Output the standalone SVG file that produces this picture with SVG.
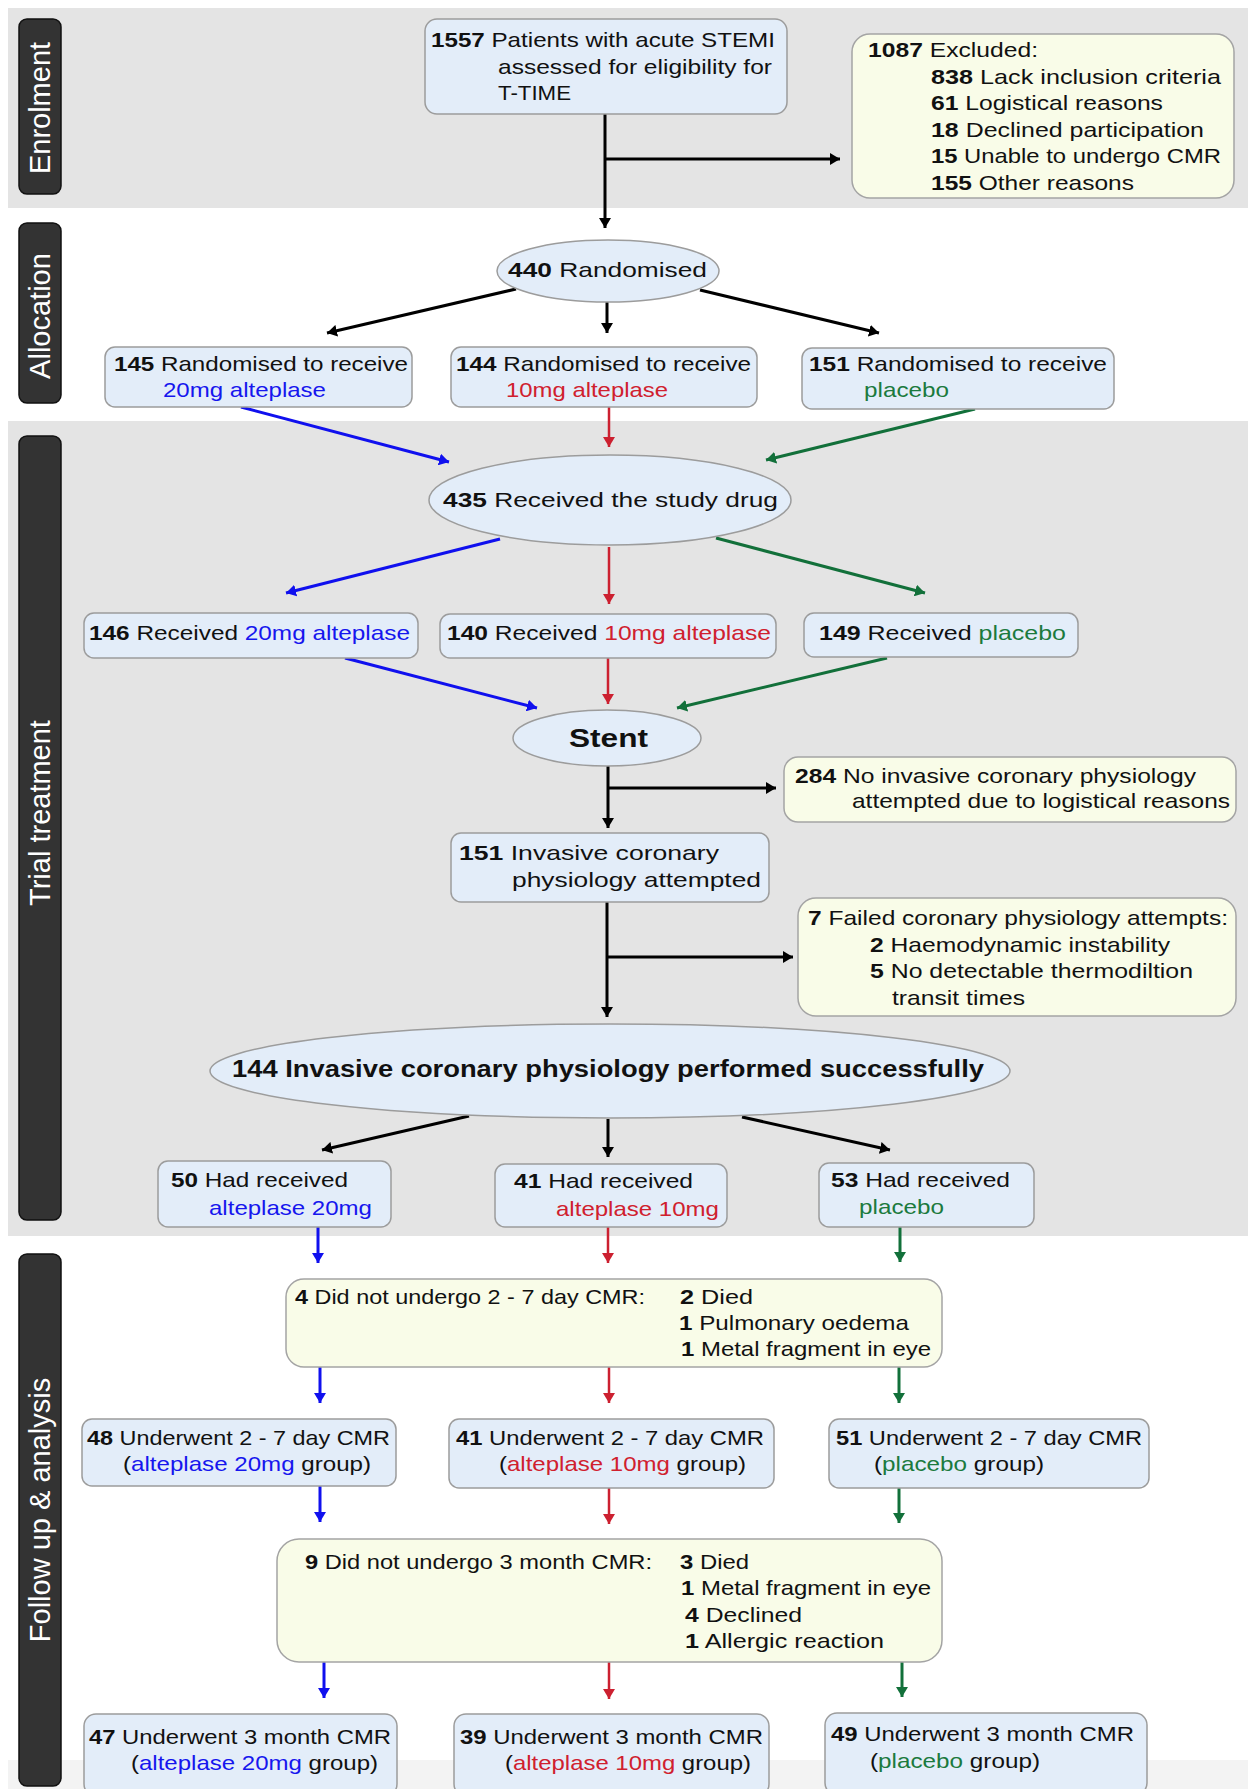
<svg xmlns="http://www.w3.org/2000/svg" width="1256" height="1789" viewBox="0 0 1256 1789">
<style>
text{font-family:"Liberation Sans",Arial,sans-serif;font-size:21px;fill:#111}
.b{font-weight:bold}
.bl{fill:#1616ee}
.rd{fill:#d0202e}
.gr{fill:#1b7a3e}
.bx{fill:#e3edf9;stroke:#9c9c9c;stroke-width:1.5}
.yb{fill:#f9fce8;stroke:#a4a4a4;stroke-width:1.5}
.band{fill:#e4e4e4}
.lab{fill:#333;stroke:#111;stroke-width:1.5}
.lt{font-size:29px;fill:#fff;text-anchor:middle}
.k{stroke:#000;stroke-width:3;fill:none}
.cb{stroke:#1010ee;stroke-width:3;fill:none}
.cr{stroke:#cc2030;stroke-width:2.5;fill:none}
.cg{stroke:#12703a;stroke-width:3;fill:none}
</style>
<defs>
<marker id="ak" viewBox="0 0 10 12" refX="10" refY="6" markerWidth="10" markerHeight="12" markerUnits="userSpaceOnUse" orient="auto"><path d="M0,0 L10,6 L0,12 z" fill="#000"/></marker>
<marker id="ab" viewBox="0 0 10 12" refX="10" refY="6" markerWidth="10" markerHeight="12" markerUnits="userSpaceOnUse" orient="auto"><path d="M0,0 L10,6 L0,12 z" fill="#1010ee"/></marker>
<marker id="ar" viewBox="0 0 10 12" refX="10" refY="6" markerWidth="10" markerHeight="12" markerUnits="userSpaceOnUse" orient="auto"><path d="M0,0 L10,6 L0,12 z" fill="#cc2030"/></marker>
<marker id="ag" viewBox="0 0 10 12" refX="10" refY="6" markerWidth="10" markerHeight="12" markerUnits="userSpaceOnUse" orient="auto"><path d="M0,0 L10,6 L0,12 z" fill="#12703a"/></marker>
</defs>
<rect width="1256" height="1789" fill="#fff"/>
<g id="bands">
<rect class="band" x="8" y="8" width="1240" height="200"/>
<rect class="band" x="8" y="421" width="1240" height="815"/>
<rect x="8" y="1760" width="1240" height="29" fill="#f3f3f3"/>
</g>
<g id="stage-labels">
<g id="lab-enrol"><rect class="lab" x="19" y="19" width="42" height="175" rx="8"/><text class="lt" transform="translate(50,108) rotate(-90)">Enrolment</text></g>
<g id="lab-alloc"><rect class="lab" x="19" y="223" width="42" height="180" rx="8"/><text class="lt" transform="translate(50,316) rotate(-90)">Allocation</text></g>
<g id="lab-trial"><rect class="lab" x="19" y="436" width="42" height="784" rx="8"/><text class="lt" transform="translate(50,813) rotate(-90)">Trial treatment</text></g>
<g id="lab-follow"><rect class="lab" x="19" y="1254" width="42" height="532" rx="8"/><text class="lt" transform="translate(50,1510) rotate(-90)">Follow up &amp; analysis</text></g>
</g>
<g id="connectors">
<line class="k" x1="605" y1="114" x2="605" y2="228" marker-end="url(#ak)"/>
<line class="k" x1="605" y1="159" x2="840" y2="159" marker-end="url(#ak)"/>
<line class="k" x1="516" y1="289" x2="327" y2="333" marker-end="url(#ak)"/>
<line class="k" x1="607" y1="302" x2="607" y2="333" marker-end="url(#ak)"/>
<line class="k" x1="700" y1="290" x2="879" y2="333" marker-end="url(#ak)"/>
<line class="cb" x1="241" y1="407" x2="449" y2="462" marker-end="url(#ab)"/>
<line class="cr" x1="609" y1="407" x2="609" y2="447" marker-end="url(#ar)"/>
<line class="cg" x1="975" y1="409" x2="766" y2="460" marker-end="url(#ag)"/>
<line class="cb" x1="500" y1="539" x2="286" y2="593" marker-end="url(#ab)"/>
<line class="cr" x1="609" y1="547" x2="609" y2="604" marker-end="url(#ar)"/>
<line class="cg" x1="716" y1="538" x2="925" y2="593" marker-end="url(#ag)"/>
<line class="cb" x1="345" y1="658" x2="537" y2="708" marker-end="url(#ab)"/>
<line class="cr" x1="608" y1="658" x2="608" y2="704" marker-end="url(#ar)"/>
<line class="cg" x1="887" y1="658" x2="677" y2="708" marker-end="url(#ag)"/>
<line class="k" x1="608" y1="766" x2="608" y2="828" marker-end="url(#ak)"/>
<line class="k" x1="608" y1="788" x2="776" y2="788" marker-end="url(#ak)"/>
<line class="k" x1="607" y1="902" x2="607" y2="1017" marker-end="url(#ak)"/>
<line class="k" x1="607" y1="957" x2="793" y2="957" marker-end="url(#ak)"/>
<line class="k" x1="469" y1="1116" x2="322" y2="1150" marker-end="url(#ak)"/>
<line class="k" x1="608" y1="1119" x2="608" y2="1157" marker-end="url(#ak)"/>
<line class="k" x1="742" y1="1117" x2="890" y2="1150" marker-end="url(#ak)"/>
<line class="cb" x1="318" y1="1227" x2="318" y2="1263" marker-end="url(#ab)"/>
<line class="cr" x1="608" y1="1227" x2="608" y2="1263" marker-end="url(#ar)"/>
<line class="cg" x1="900" y1="1227" x2="900" y2="1262" marker-end="url(#ag)"/>
<line class="cb" x1="320" y1="1367" x2="320" y2="1403" marker-end="url(#ab)"/>
<line class="cr" x1="609" y1="1367" x2="609" y2="1403" marker-end="url(#ar)"/>
<line class="cg" x1="899" y1="1367" x2="899" y2="1403" marker-end="url(#ag)"/>
<line class="cb" x1="320" y1="1486" x2="320" y2="1522" marker-end="url(#ab)"/>
<line class="cr" x1="609" y1="1488" x2="609" y2="1524" marker-end="url(#ar)"/>
<line class="cg" x1="899" y1="1488" x2="899" y2="1523" marker-end="url(#ag)"/>
<line class="cb" x1="324" y1="1662" x2="324" y2="1698" marker-end="url(#ab)"/>
<line class="cr" x1="609" y1="1662" x2="609" y2="1699" marker-end="url(#ar)"/>
<line class="cg" x1="902" y1="1662" x2="902" y2="1697" marker-end="url(#ag)"/>
</g>
<g id="n1557"><rect class="bx" x="425" y="19" width="362" height="95" rx="12"/>
<text x="431" y="47" textLength="344" lengthAdjust="spacingAndGlyphs"><tspan class="b">1557</tspan> Patients with acute STEMI</text>
<text x="498" y="74" textLength="274" lengthAdjust="spacingAndGlyphs">assessed for eligibility for</text>
<text x="498" y="100" textLength="73" lengthAdjust="spacingAndGlyphs">T-TIME</text></g>
<g id="excluded"><rect class="yb" x="852" y="34" width="382" height="164" rx="18"/>
<text x="868" y="57" textLength="170" lengthAdjust="spacingAndGlyphs"><tspan class="b">1087</tspan> Excluded:</text>
<text x="931" y="84" textLength="290" lengthAdjust="spacingAndGlyphs"><tspan class="b">838</tspan> Lack inclusion criteria</text>
<text x="931" y="110" textLength="232" lengthAdjust="spacingAndGlyphs"><tspan class="b">61</tspan> Logistical reasons</text>
<text x="931" y="137" textLength="273" lengthAdjust="spacingAndGlyphs"><tspan class="b">18</tspan> Declined participation</text>
<text x="931" y="163" textLength="290" lengthAdjust="spacingAndGlyphs"><tspan class="b">15</tspan> Unable to undergo CMR</text>
<text x="931" y="190" textLength="203" lengthAdjust="spacingAndGlyphs"><tspan class="b">155</tspan> Other reasons</text></g>
<g id="randomised"><ellipse class="bx" cx="608" cy="271" rx="111" ry="31"/>
<text x="508" y="277" textLength="199" lengthAdjust="spacingAndGlyphs"><tspan class="b">440</tspan> Randomised</text></g>
<g id="rand20"><rect class="bx" x="105" y="347" width="307" height="60" rx="10"/>
<text x="114" y="371" textLength="294" lengthAdjust="spacingAndGlyphs"><tspan class="b">145</tspan> Randomised to receive</text>
<text class="bl" x="163" y="397" textLength="163" lengthAdjust="spacingAndGlyphs">20mg alteplase</text></g>
<g id="rand10"><rect class="bx" x="451" y="347" width="306" height="60" rx="10"/>
<text x="456" y="371" textLength="295" lengthAdjust="spacingAndGlyphs"><tspan class="b">144</tspan> Randomised to receive</text>
<text class="rd" x="506" y="397" textLength="162" lengthAdjust="spacingAndGlyphs">10mg alteplase</text></g>
<g id="randpl"><rect class="bx" x="802" y="348" width="312" height="61" rx="10"/>
<text x="809" y="371" textLength="298" lengthAdjust="spacingAndGlyphs"><tspan class="b">151</tspan> Randomised to receive</text>
<text class="gr" x="864" y="397" textLength="85" lengthAdjust="spacingAndGlyphs">placebo</text></g>
<g id="drug"><ellipse class="bx" cx="610" cy="500" rx="181" ry="45"/>
<text x="443" y="507" textLength="335" lengthAdjust="spacingAndGlyphs"><tspan class="b">435</tspan> Received the study drug</text></g>
<g id="rec20"><rect class="bx" x="84" y="613" width="334" height="45" rx="10"/>
<text x="89" y="640" textLength="321" lengthAdjust="spacingAndGlyphs"><tspan class="b">146</tspan>  Received <tspan class="bl">20mg alteplase</tspan></text></g>
<g id="rec10"><rect class="bx" x="440" y="614" width="336" height="44" rx="10"/>
<text x="447" y="640" textLength="324" lengthAdjust="spacingAndGlyphs"><tspan class="b">140</tspan>  Received <tspan class="rd">10mg alteplase</tspan></text></g>
<g id="recpl"><rect class="bx" x="804" y="613" width="274" height="44" rx="10"/>
<text x="819" y="640" textLength="247" lengthAdjust="spacingAndGlyphs"><tspan class="b">149</tspan>  Received <tspan class="gr">placebo</tspan></text></g>
<g id="stent"><ellipse class="bx" cx="607" cy="738" rx="94" ry="28"/>
<text class="b" x="569" y="747" style="font-size:25px" textLength="79" lengthAdjust="spacingAndGlyphs">Stent</text></g>
<g id="noinv"><rect class="yb" x="784" y="757" width="452" height="65" rx="14"/>
<text x="795" y="783" textLength="401" lengthAdjust="spacingAndGlyphs"><tspan class="b">284</tspan> No invasive coronary physiology</text>
<text x="852" y="808" textLength="378" lengthAdjust="spacingAndGlyphs">attempted due to logistical reasons</text></g>
<g id="attempted"><rect class="bx" x="451" y="833" width="318" height="69" rx="10"/>
<text x="459" y="860" textLength="260" lengthAdjust="spacingAndGlyphs"><tspan class="b">151</tspan> Invasive coronary</text>
<text x="512" y="887" textLength="249" lengthAdjust="spacingAndGlyphs">physiology attempted</text></g>
<g id="failed"><rect class="yb" x="798" y="898" width="438" height="118" rx="18"/>
<text x="808" y="925" textLength="420" lengthAdjust="spacingAndGlyphs"><tspan class="b">7</tspan> Failed coronary physiology attempts:</text>
<text x="870" y="952" textLength="300" lengthAdjust="spacingAndGlyphs"><tspan class="b">2</tspan> Haemodynamic instability</text>
<text x="870" y="978" textLength="323" lengthAdjust="spacingAndGlyphs"><tspan class="b">5</tspan> No detectable thermodiltion</text>
<text x="892" y="1005" textLength="133" lengthAdjust="spacingAndGlyphs">transit times</text></g>
<g id="success"><ellipse class="bx" cx="610" cy="1071" rx="400" ry="47"/>
<text class="b" x="232" y="1077" style="font-size:23px" textLength="752" lengthAdjust="spacingAndGlyphs">144 Invasive coronary physiology performed successfully</text></g>
<g id="had20"><rect class="bx" x="158" y="1161" width="233" height="66" rx="10"/>
<text x="171" y="1187" textLength="177" lengthAdjust="spacingAndGlyphs"><tspan class="b">50</tspan> Had received</text>
<text class="bl" x="209" y="1215" textLength="163" lengthAdjust="spacingAndGlyphs">alteplase 20mg</text></g>
<g id="had10"><rect class="bx" x="495" y="1164" width="232" height="63" rx="10"/>
<text x="514" y="1188" textLength="179" lengthAdjust="spacingAndGlyphs"><tspan class="b">41</tspan> Had received</text>
<text class="rd" x="556" y="1216" textLength="163" lengthAdjust="spacingAndGlyphs">alteplase 10mg</text></g>
<g id="hadpl"><rect class="bx" x="819" y="1163" width="215" height="64" rx="10"/>
<text x="831" y="1187" textLength="179" lengthAdjust="spacingAndGlyphs"><tspan class="b">53</tspan> Had received</text>
<text class="gr" x="859" y="1214" textLength="85" lengthAdjust="spacingAndGlyphs">placebo</text></g>
<g id="no27"><rect class="yb" x="286" y="1279" width="656" height="88" rx="18"/>
<text x="295" y="1304" textLength="350" lengthAdjust="spacingAndGlyphs"><tspan class="b">4</tspan> Did not undergo 2 - 7 day CMR:</text>
<text x="680" y="1304" textLength="73" lengthAdjust="spacingAndGlyphs"><tspan class="b">2</tspan> Died</text>
<text x="679" y="1330" textLength="230" lengthAdjust="spacingAndGlyphs"><tspan class="b">1</tspan> Pulmonary oedema</text>
<text x="681" y="1356" textLength="250" lengthAdjust="spacingAndGlyphs"><tspan class="b">1</tspan> Metal fragment in eye</text></g>
<g id="cmr20"><rect class="bx" x="82" y="1419" width="314" height="67" rx="10"/>
<text x="87" y="1445" textLength="303" lengthAdjust="spacingAndGlyphs"><tspan class="b">48</tspan> Underwent 2 - 7 day CMR</text>
<text x="123" y="1471" textLength="248" lengthAdjust="spacingAndGlyphs">(<tspan class="bl">alteplase 20mg</tspan> group)</text></g>
<g id="cmr10"><rect class="bx" x="449" y="1419" width="325" height="69" rx="10"/>
<text x="456" y="1445" textLength="308" lengthAdjust="spacingAndGlyphs"><tspan class="b">41</tspan> Underwent 2 - 7 day CMR</text>
<text x="499" y="1471" textLength="247" lengthAdjust="spacingAndGlyphs">(<tspan class="rd">alteplase 10mg</tspan> group)</text></g>
<g id="cmrpl"><rect class="bx" x="829" y="1419" width="320" height="69" rx="10"/>
<text x="836" y="1445" textLength="306" lengthAdjust="spacingAndGlyphs"><tspan class="b">51</tspan> Underwent 2 - 7 day CMR</text>
<text x="874" y="1471" textLength="170" lengthAdjust="spacingAndGlyphs">(<tspan class="gr">placebo</tspan> group)</text></g>
<g id="no3m"><rect class="yb" x="277" y="1539" width="665" height="123" rx="22"/>
<text x="305" y="1569" textLength="347" lengthAdjust="spacingAndGlyphs"><tspan class="b">9</tspan> Did not undergo 3 month CMR:</text>
<text x="680" y="1569" textLength="69" lengthAdjust="spacingAndGlyphs"><tspan class="b">3</tspan> Died</text>
<text x="681" y="1595" textLength="250" lengthAdjust="spacingAndGlyphs"><tspan class="b">1</tspan> Metal fragment in eye</text>
<text x="685" y="1622" textLength="117" lengthAdjust="spacingAndGlyphs"><tspan class="b">4</tspan> Declined</text>
<text x="685" y="1648" textLength="199" lengthAdjust="spacingAndGlyphs"><tspan class="b">1</tspan> Allergic reaction</text></g>
<g id="m20"><rect class="bx" x="84" y="1714" width="313" height="82" rx="12"/>
<text x="89" y="1744" textLength="302" lengthAdjust="spacingAndGlyphs"><tspan class="b">47</tspan> Underwent 3 month CMR</text>
<text x="131" y="1770" textLength="247" lengthAdjust="spacingAndGlyphs">(<tspan class="bl">alteplase 20mg</tspan> group)</text></g>
<g id="m10"><rect class="bx" x="454" y="1714" width="315" height="82" rx="12"/>
<text x="460" y="1744" textLength="303" lengthAdjust="spacingAndGlyphs"><tspan class="b">39</tspan> Underwent 3 month CMR</text>
<text x="505" y="1770" textLength="246" lengthAdjust="spacingAndGlyphs">(<tspan class="rd">alteplase 10mg</tspan> group)</text></g>
<g id="mpl"><rect class="bx" x="825" y="1713" width="322" height="82" rx="12"/>
<text x="831" y="1741" textLength="303" lengthAdjust="spacingAndGlyphs"><tspan class="b">49</tspan> Underwent 3 month CMR</text>
<text x="870" y="1768" textLength="170" lengthAdjust="spacingAndGlyphs">(<tspan class="gr">placebo</tspan> group)</text></g>
</svg>
